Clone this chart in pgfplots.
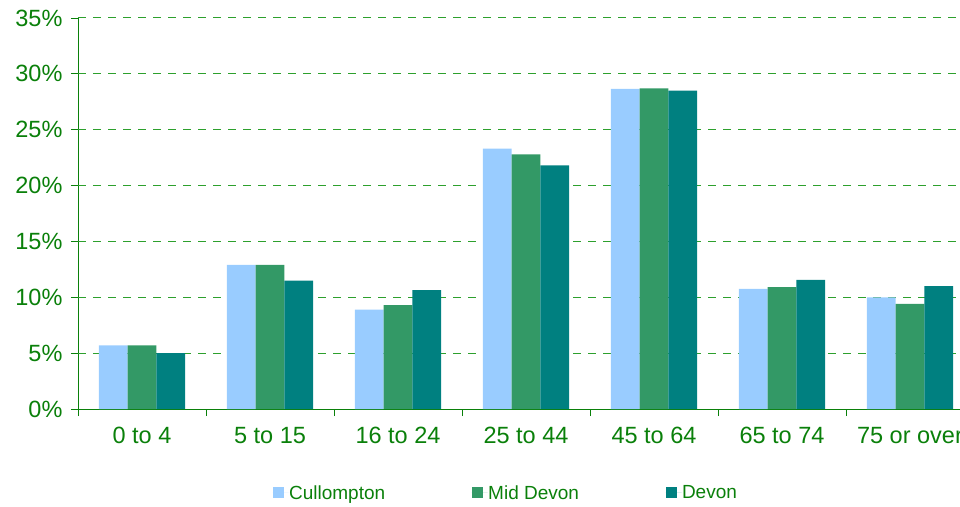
\documentclass[border=0pt]{standalone}
\usepackage{pgfplots}
\pgfplotsset{compat=1.18}
\usepackage{fontspec}
\setmainfont{Liberation Sans}
\definecolor{txtgreen}{HTML}{0A800A}
\definecolor{gridgreen}{HTML}{2DA02D}
\definecolor{cull}{HTML}{99CCFF}
\definecolor{mid}{HTML}{339966}
\definecolor{dev}{HTML}{008080}
\begin{document}
\begin{tikzpicture}
\path[use as bounding box, clip] (0pt,0pt) rectangle (960pt,506pt);
\begin{axis}[
  at={(78pt,97pt)}, anchor=south west,
  scale only axis, width=896pt, height=391pt,
  xmin=-0.5, xmax=6.5, ymin=0, ymax=35,
  ybar=0pt, bar width=28.7pt,
  axis x line*=bottom, axis y line*=left,
  axis line style={draw=txtgreen, line width=0.9pt},
  xtick={0,...,6},
  xticklabels={0 to 4,5 to 15,16 to 24,25 to 44,45 to 64,65 to 74,75 or over},
  major x tick style={draw=none},
  minor xtick={-0.5,0.5,...,6.5},
  ytick={0,5,...,35},
  yticklabels={0\%,5\%,10\%,15\%,20\%,25\%,30\%,35\%},
  tick align=outside,
  tick style={draw=txtgreen, line width=0.9pt},
  major tick length=7pt, minor tick length=7pt,
  ticklabel style={font=\fontsize{23.5}{27}\selectfont, text=txtgreen},
  yticklabel style={xshift=-5pt},
  xticklabel style={yshift=-8pt},
  legend columns=3,
  legend style={draw=none, fill=none, at={(0.4766,-0.2148)}, anchor=center,
    font=\fontsize{19}{23}\selectfont, text=txtgreen,
    /tikz/every even column/.append style={column sep=86pt},
    nodes={inner sep=0.5pt}},
  legend image code/.code={\fill[#1] (0pt,-5.5pt) rectangle (11pt,5.5pt); \path (0pt,0pt) -- (16pt,0pt);},
]
\pgfplotsinvokeforeach{5,10,15,20,25,30,35}{
  \draw[draw=gridgreen, dash pattern=on 8pt off 7pt, line width=1pt] (axis cs:-0.5,#1) -- (axis cs:6.5,#1);
}
\addplot[fill=cull, draw=none] coordinates {(0,5.7) (1,12.9) (2,8.9) (3,23.3) (4,28.65) (5,10.75) (6,10.0)};
\addplot[fill=mid, draw=none] coordinates {(0,5.7) (1,12.9) (2,9.3) (3,22.8) (4,28.7) (5,10.9) (6,9.4)};
\addplot[fill=dev, draw=none] coordinates {(0,5.0) (1,11.5) (2,10.65) (3,21.8) (4,28.5) (5,11.55) (6,11.0)};
\legend{Cullompton,Mid Devon,Devon}
\end{axis}
\end{tikzpicture}
\end{document}
